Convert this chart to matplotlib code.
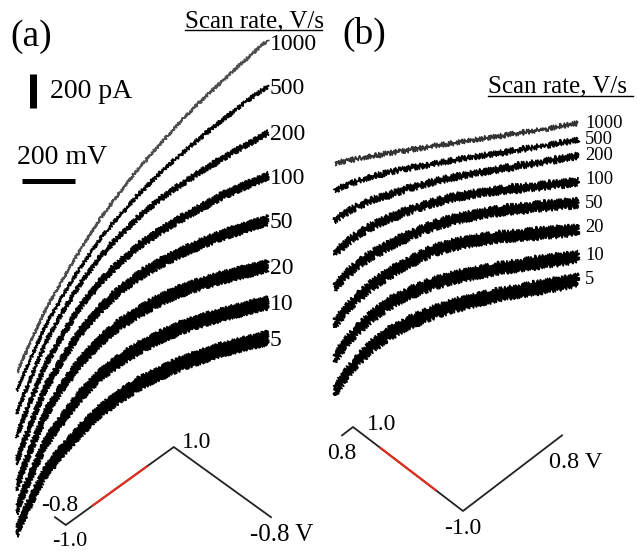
import matplotlib
matplotlib.use('Agg')
import matplotlib.pyplot as plt
import numpy as np

plt.rcParams['font.family'] = ['Liberation Serif', 'DejaVu Serif']

# scan rates (V/s), top trace first
rates = ['1000', '500', '200', '100', '50', '20', '10', '5']

# panel (a) traces (x, y in page pixels)
a_x = [17, 30, 45, 60, 80, 100, 120, 140, 160, 180, 200, 220, 244, 268]
a_1000 = [372, 343, 311, 284, 250, 219, 192, 167, 144, 122, 102, 83, 61, 40]
a_500 = [390, 360, 327, 300, 268, 239, 215, 193, 173, 155, 138, 122, 103, 86]
a_200 = [412, 380, 344, 316, 284, 257, 235, 216, 199, 185, 172, 160, 146, 133]
a_100 = [435, 402, 366, 339, 307, 282, 262, 245, 231, 219, 208, 197, 186, 176]
a_50 = [460, 426, 389, 363, 332, 309, 290, 275, 263, 253, 244, 236, 228, 220]
a_20 = [485, 451, 415, 390, 362, 341, 324, 311, 300, 291, 284, 278, 272, 266]
a_10 = [508, 477, 444, 422, 396, 375, 360, 347, 337, 328, 321, 315, 309, 303]
a_5 = [530, 502, 473, 453, 431, 411, 396, 383, 373, 364, 357, 350, 344, 338]
a_traces = [a_1000, a_500, a_200, a_100, a_50, a_20, a_10, a_5]
a_label_y = [45, 88, 135, 178, 222, 268, 305, 340]
# vertical spread of the noise band (px)
a_noise = [1.2, 2.5, 4.5, 7, 9.5, 11.5, 12.5, 13.5]

# panel (b) traces
b_x = [335, 345, 358, 372, 390, 410, 432, 455, 480, 505, 530, 555, 578]
b_1000 = [163, 161, 158.5, 156, 153, 150, 146, 143, 139, 135, 131.5, 127.5, 123]
b_500 = [190, 185.5, 181, 176.5, 172, 168, 164, 160, 156, 152, 148, 144, 140]
b_200 = [220, 213, 206, 200, 194.5, 188, 182, 177, 172.5, 168, 164, 160, 156]
b_100 = [253, 244, 234, 226, 218, 210, 203, 197, 193, 189.5, 187, 184.5, 182]
b_50 = [287, 276, 264, 254.5, 245, 235, 226, 219, 214, 210, 207, 205, 203]
b_20 = [323, 311, 297, 285, 273, 261.5, 251, 244, 239.5, 236.5, 234, 232, 230]
b_10 = [357, 344, 329, 316, 303, 292.5, 284, 277, 272, 267.5, 263.5, 260, 257]
b_5 = [390, 376, 360, 346, 333, 322, 313, 305, 299, 293.5, 289, 284.5, 280]
b_traces = [b_1000, b_500, b_200, b_100, b_50, b_20, b_10, b_5]
b_label_y = [123, 139, 155, 180, 203, 227, 256, 280]
b_noise = [2, 3, 4.5, 6.5, 8.5, 10, 11, 12]

# potential waveforms (time in units of V swept, potential in V)
wave_t = [0, 0.2, 2.2, 4.0]
wave_a = [-0.8, -1.0, 1.0, -0.8]
wave_b = [0.8, 1.0, -1.0, 0.8]
red_t = [0.7, 1.7]
red_a = [-0.5, 0.5]
red_b = [0.5, -0.5]

W, H = 638, 554
fig = plt.figure(figsize=(W / 100, H / 100), dpi=100)
ax = fig.add_axes([0, 0, 1, 1])
ax.set_xlim(0, W)
ax.set_ylim(H, 0)
ax.axis('off')


def trace(x, y, h, col, jag):
    # noisy current trace drawn as a band of vertical height h
    x = np.array(x, dtype=float)
    y = np.array(y, dtype=float)
    xs = np.concatenate([x, x[::-1]])
    ys = np.concatenate([y - h / 2, (y + h / 2)[::-1]])
    for p in ax.fill(xs, ys, facecolor=col, edgecolor=col, lw=0.9):
        p.set_sketch_params(scale=jag, length=2, randomness=2)


for i, r in enumerate(rates):
    trace(a_x, a_traces[i], a_noise[i], '#4d4d4d' if r == '1000' else 'black', 1.4)
    ax.text(270, a_label_y[i], r, fontsize=17, ha='left', va='center')

    trace(b_x, b_traces[i], b_noise[i], '#333333' if r == '1000' else 'black', 2.0)
    ax.text(585, b_label_y[i], r, fontsize=13.3, ha='left', va='center')

# titles and headers
ax.text(10, 37, '(a)', fontsize=27, ha='left', va='center')
ax.text(342, 34, '(b)', fontsize=27, ha='left', va='center')
ax.text(185, 27, 'Scan rate, V/s', fontsize=18, ha='left', va='baseline')
ax.plot([185, 322], [30, 30], color='black', lw=1)
ax.text(488, 92, 'Scan rate, V/s', fontsize=18, ha='left', va='baseline')
ax.plot([488, 633], [96, 96], color='black', lw=1)

# scale bars
ax.plot([33, 33], [74, 108], color='black', lw=7 * 0.72, solid_capstyle='butt')
ax.text(50, 92, '200 pA', fontsize=20, ha='left', va='center')
ax.text(17, 158, '200 mV', fontsize=20, ha='left', va='center')
ax.plot([22, 75], [181, 181], color='black', lw=5 * 0.72, solid_capstyle='butt')


def wave_axes(t0_px, v0_px, px_t, px_v):
    # inset for a waveform: t=0 at x=t0_px, v=0 at y=v0_px
    t_lo, t_hi, v_lo, v_hi = -0.5, 4.6, -1.5, 1.5
    left = (t0_px + t_lo * px_t) / W
    width = (t_hi - t_lo) * px_t / W
    bottom = 1 - (v0_px - v_lo * px_v) / H
    height = (v_hi - v_lo) * px_v / H
    w = fig.add_axes([left, bottom, width, height])
    w.set_xlim(t_lo, t_hi)
    w.set_ylim(v_lo, v_hi)
    w.axis('off')
    return w


wa = wave_axes(55, 486, 54, 39)
wa.plot(wave_t, wave_a, color='#222222', lw=1.3)
wa.plot(red_t, red_a, color='#e03020', lw=1.6)
wa.text(0.09, -0.78, '-0.8', fontsize=17, ha='center', va='bottom')
wa.text(0.28, -1.18, '-1.0', fontsize=16, ha='center', va='top')
wa.text(2.35, 1.12, '1.0', fontsize=17, ha='left', va='center')
wa.text(4.2, -0.97, '-0.8 V', fontsize=18, ha='center', va='top')

wb = wave_axes(342, 469, 55, 42)
wb.plot(wave_t, wave_b, color='#222222', lw=1.3)
wb.plot(red_t, red_b, color='#e03020', lw=1.6)
wb.text(0.0, 0.62, '0.8', fontsize=17, ha='center', va='top')
wb.text(0.45, 1.05, '1.0', fontsize=17, ha='left', va='center')
wb.text(2.2, -1.17, '-1.0', fontsize=17, ha='center', va='top')
wb.text(4.24, 0.4, '0.8 V', fontsize=17.5, ha='center', va='top')

fig.savefig('out.png', dpi=100)
